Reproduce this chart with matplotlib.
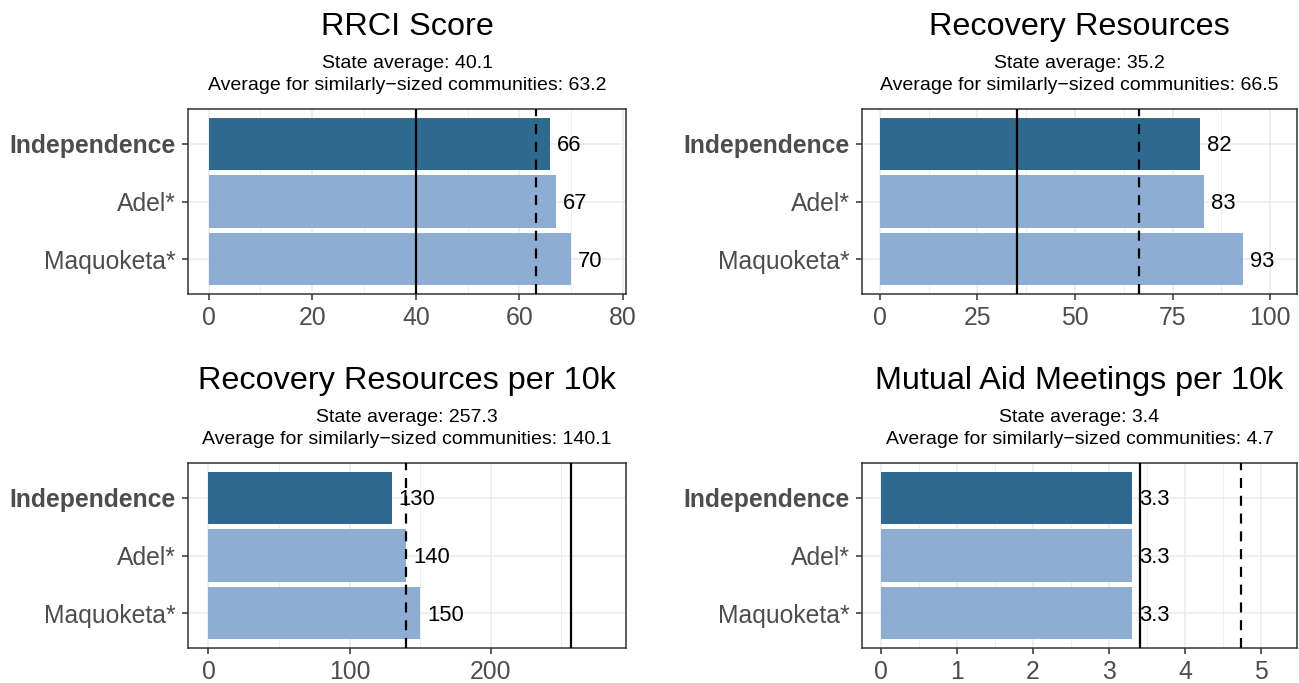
import matplotlib
matplotlib.use('Agg')
import matplotlib.pyplot as plt
from matplotlib.transforms import offset_copy
import numpy as np

# ── data ──
communities = ['Independence', 'Adel*', 'Maquoketa*']
titles = ['RRCI Score', 'Recovery Resources',
          'Recovery Resources per 10k', 'Mutual Aid Meetings per 10k']
rrci = [66, 67, 70]
resources = [82, 83, 93]
resources_10k = [130, 140, 150]
meetings_10k = [3.3, 3.3, 3.3]
state_avg = [40.1, 35.2, 257.3, 3.4]
peer_avg = [63.2, 66.5, 140.1, 4.74]
xticks = [[0, 20, 40, 60, 80], [0, 25, 50, 75, 100], [0, 100, 200], [0, 1, 2, 3, 4, 5]]
series = [rrci, resources, resources_10k, meetings_10k]

# ── style ──
DARK = '#2E6A8F'; LIGHT = '#8DAED2'
BORDER = '#333333'; TICKTXT = '#4D4D4D'; GRID = '#EBEBEB'
plt.rcParams['font.family'] = ['Liberation Sans', 'DejaVu Sans']

W, H = 1299, 683
fig = plt.figure(figsize=(W / 100, H / 100), dpi=100)
fig.patch.set_facecolor('white')

# panel boxes in pixels: x0, x1, top, bottom
boxes = [(188, 626, 109, 294), (862, 1297, 109, 294),
         (188, 626, 463, 648), (862, 1297, 463, 648)]
xlims = [(-4.0, 80.6), (-4.6, 106.9), (-14.5, 296), (-0.25, 5.47)]

for i, (x0, x1, top, bot) in enumerate(boxes):
    ax = fig.add_axes([x0 / W, (H - bot) / H, (x1 - x0) / W, (bot - top) / H])
    vals = series[i]
    y = np.arange(len(communities))
    colors = [DARK] + [LIGHT] * (len(communities) - 1)
    ax.barh(y, vals, height=0.9, color=colors, zorder=2)
    ax.axvline(state_avg[i], color='black', lw=1.6, zorder=3)
    ax.axvline(peer_avg[i], color='black', lw=1.6, ls=(0, (4.5, 3.5)), zorder=3)
    for yy, v in zip(y, vals):
        ax.annotate(f'{v:g}', xy=(v, yy), xytext=(5, -1.5), textcoords='offset points',
                    ha='left', va='center', fontsize=15.8, color='black', zorder=4)

    ax.set_xlim(*xlims[i])
    ax.set_ylim(2.6, -0.6)
    tk = xticks[i]
    ax.set_xticks(tk)
    ax.set_xticklabels([str(t) for t in tk])
    step = tk[1] - tk[0]
    minor = [t + step / 2 for t in [tk[0] - step] + tk if xlims[i][0] < t + step / 2 < xlims[i][1]]
    ax.set_xticks(minor, minor=True)
    ax.set_yticks(y)
    ax.set_yticklabels(communities)
    ax.get_yticklabels()[0].set_fontweight('bold')

    ax.grid(axis='x', which='major', color=GRID, lw=1.1, zorder=0)
    ax.grid(axis='x', which='minor', color=GRID, lw=0.55, zorder=0)
    ax.grid(axis='y', which='major', color=GRID, lw=1.1, zorder=0)
    ax.set_axisbelow(True)
    ax.tick_params(axis='both', which='major', length=4.3, width=1.1, color=BORDER,
                   labelsize=17.8, labelcolor=TICKTXT, pad=4.3)
    ax.tick_params(axis='x', which='minor', length=0)
    for s in ax.spines.values():
        s.set_color(BORDER); s.set_linewidth(1.1)

    def at(dy):
        return offset_copy(ax.transAxes, fig=fig, x=0, y=dy, units='dots')
    ax.text(0.5, 1, titles[i], transform=at(74), ha='center', va='baseline', fontsize=23.3)
    ax.text(0.5, 1, f'State average: {state_avg[i]:.1f}', transform=at(40.5),
            ha='center', va='baseline', fontsize=14)
    ax.text(0.5, 1, f'Average for similarly\u2212sized communities: {peer_avg[i]:.1f}',
            transform=at(19), ha='center', va='baseline', fontsize=14)

fig.savefig('out.png', dpi=100, facecolor='white')
